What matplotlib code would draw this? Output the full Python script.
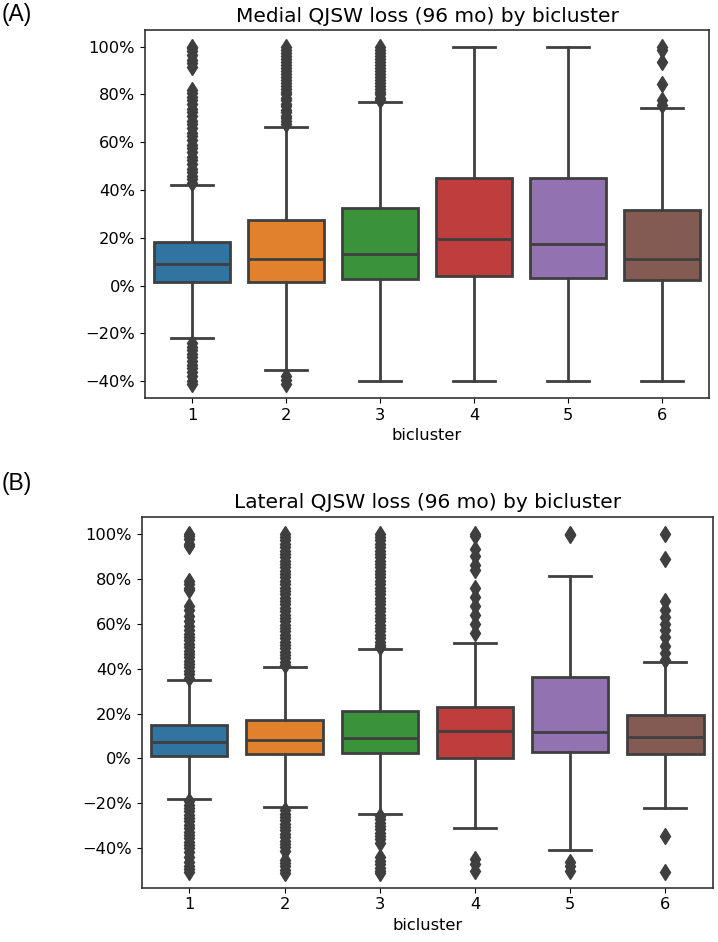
import matplotlib
matplotlib.use("Agg")
import matplotlib.pyplot as plt
from matplotlib.ticker import PercentFormatter

# bicluster labels and box colours (seaborn default palette, desaturated)
clusters = ["1", "2", "3", "4", "5", "6"]
colors = ["#3274a1", "#e1812c", "#3a923a", "#c03d3e", "#9372b2", "#845b53"]

# ---- (A) Medial QJSW loss, values in %
med_q1 = [1.7, 1.7, 2.8, 4.1, 3.2, 2.5]
med_median = [9.1, 11.2, 13.3, 19.7, 17.4, 11.2]
med_q3 = [18.2, 27.3, 32.5, 45.1, 45.1, 31.8]
med_whislo = [-22.1, -35.4, -39.9, -40.0, -40.0, -40.0]
med_whishi = [42.3, 66.5, 77.0, 100.0, 100.0, 74.2]
med_fliers = [
    [100, 99.5, 98, 96.5, 94.5, 93, 91.5, 82, 80.5, 79, 77.5, 76, 74, 72.5, 71,
     69, 67.5, 66, 64, 62.5, 61, 59, 57.5, 56, 54, 52.5, 51, 49, 47.5, 46,
     44.5, 43, -24, -25.5, -27, -28.5, -30, -31.5, -33, -34.5, -36, -38,
     -40, -41],
    [100, 98.8, 97.5, 96.2, 95, 93.7, 92.5, 91.2, 90, 88.7, 87.5, 86.2, 85,
     83.7, 82.5, 81.2, 80, 78.7, 77.5, 76.2, 75, 73.7, 72.5, 71.2, 70, 68.7,
     67.5, -38, -39.5, -41],
    [100, 98.8, 97.5, 96.2, 95, 93.7, 92.5, 91.2, 90, 88.7, 87.5, 86.2, 85,
     83.7, 82.5, 81.2, 80, 78.7, 77.8],
    [],
    [],
    [100, 98.5, 93.7, 84.5, 77.7, 75.6],
]

# ---- (B) Lateral QJSW loss, values in %
lat_q1 = [1.0, 1.8, 2.5, 0.4, 3.0, 1.8]
lat_median = [7.4, 8.2, 8.9, 12.4, 11.9, 9.7]
lat_q3 = [14.9, 17.1, 21.2, 23.1, 36.2, 19.4]
lat_whislo = [-17.9, -21.7, -24.6, -30.9, -40.7, -21.9]
lat_whishi = [34.7, 40.7, 48.5, 51.4, 81.0, 43.0]
lat_fliers = [
    [100, 99, 97.5, 95.5, 94.5, 79, 77.5, 76, 75, 68, 66, 63.5, 61, 59, 57,
     55.5, 54, 52.5, 51, 49.5, 48, 46.5, 45, 43.5, 42, 40.5, 39, 37.5, 36,
     -19, -20.5, -22, -23.5, -25, -26.5, -28, -29.5, -31, -32.5, -34, -35.5,
     -37, -38.5, -40, -41.5, -44, -46, -48, -49, -50.5],
    [100, 98.5, 97, 95.5, 94, 92.5, 91, 89.5, 88, 86.5, 85, 83.5, 82, 80.5,
     79, 77.5, 76, 74.5, 73, 71.5, 70, 68.5, 67, 65.5, 64, 62.5, 61, 59.5,
     58, 56.5, 55, 53.5, 52, 50.5, 49, 47.5, 46, 44.5, 43, 41.5,
     -23, -24.5, -26, -27.5, -29, -30.5, -32, -33.5, -35, -36.5, -38, -39.5,
     -41, -45, -46.5, -48, -49.5, -51],
    [100, 98.5, 97, 95.5, 94, 92.5, 91, 89.5, 88, 86.5, 85, 83.5, 82, 80.5,
     79, 77.5, 76, 74.5, 73, 71.5, 70, 68.5, 67, 65.5, 64, 62.5, 61, 59.5,
     58, 56.5, 55, 53.5, 52, 50.5, 49.5,
     -25.5, -27, -28.5, -30, -31.5, -33, -34.5, -36, -37.5, -44, -45.5, -47,
     -48.5, -50, -51],
    [100, 99, 93, 90, 86, 84, 76, 72, 68, 64, 60, 56, -44.6, -47, -50],
    [100, 99.3, -46, -48, -50],
    [100, 88.7, 70, 66, 63, 60, 57, 54, 50, 47, 44, -34.3, -50.7],
]

line_gray = "#3f3f3f"
scale = 1.17


def draw_panel(ax, q1, med, q3, lo, hi, fliers, title):
    stats = []
    for i in range(len(clusters)):
        stats.append(dict(q1=q1[i], med=med[i], q3=q3[i], whislo=lo[i],
                          whishi=hi[i], fliers=fliers[i], label=clusters[i]))
    lw = 2.0
    bp = ax.bxp(stats, positions=range(len(clusters)), widths=0.8,
                capwidths=0.44, patch_artist=True, showfliers=True,
                boxprops=dict(edgecolor=line_gray, linewidth=lw),
                medianprops=dict(color=line_gray, linewidth=lw),
                whiskerprops=dict(color=line_gray, linewidth=lw),
                capprops=dict(color=line_gray, linewidth=lw),
                flierprops=dict(marker="d", markersize=8,
                                markerfacecolor=line_gray,
                                markeredgecolor=line_gray))
    for patch, c in zip(bp["boxes"], colors):
        patch.set_facecolor(c)
    ax.set_xlim(-0.5, len(clusters) - 0.5)
    ax.yaxis.set_major_formatter(PercentFormatter(xmax=100, decimals=0))
    ax.set_title(title, fontsize=14.5)
    ax.set_xlabel("bicluster", fontsize=10 * scale)
    ax.tick_params(labelsize=10 * scale)
    for s in ax.spines.values():
        s.set_linewidth(1.2)
        s.set_color("#333333")


fig = plt.figure(figsize=(7.18, 9.42), dpi=100)

ax1 = fig.add_axes([0.2019, 0.5775, 0.7855, 0.3907])
draw_panel(ax1, med_q1, med_median, med_q3, med_whislo, med_whishi,
           med_fliers, "Medial QJSW loss (96 mo) by bicluster")
ax1.set_ylim(-47, 107)
ax1.set_yticks([-40, -20, 0, 20, 40, 60, 80, 100])

ax2 = fig.add_axes([0.1974, 0.0576, 0.7957, 0.3938])
draw_panel(ax2, lat_q1, lat_median, lat_q3, lat_whislo, lat_whishi,
           lat_fliers, "Lateral QJSW loss (96 mo) by bicluster")
ax2.set_ylim(-57.5, 107.5)
ax2.set_yticks([-40, -20, 0, 20, 40, 60, 80, 100])

fig.text(0.002, 0.997, "(A)", ha="left", va="top", fontsize=16.5,
         family=["Liberation Sans", "DejaVu Sans"])
fig.text(0.002, 0.499, "(B)", ha="left", va="top", fontsize=16.5,
         family=["Liberation Sans", "DejaVu Sans"])

fig.savefig("out.png", dpi=100)
